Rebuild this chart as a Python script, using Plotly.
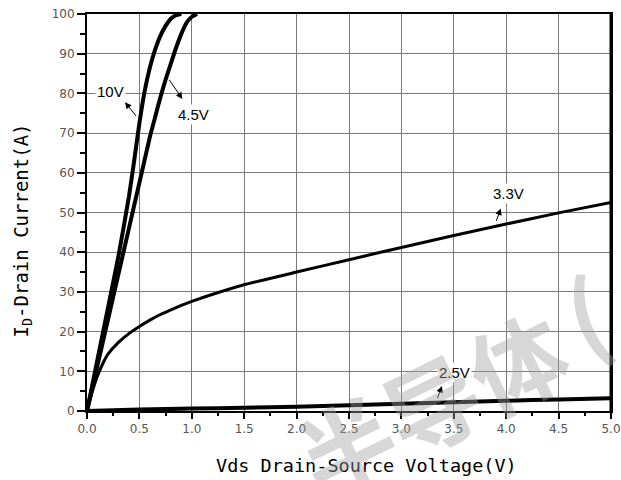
import plotly.graph_objects as go

# ---- data ----
vds_10v = [0, 0.1, 0.2, 0.3, 0.4, 0.45, 0.5, 0.55, 0.6, 0.65, 0.7, 0.75, 0.8, 0.85, 0.9]
id_10v = [0, 13, 26, 39, 54, 63, 72.5, 80.5, 86.5, 91, 94.5, 97, 98.8, 99.7, 100]

vds_45v = [0, 0.1, 0.2, 0.3, 0.4, 0.5, 0.6, 0.65, 0.7, 0.75, 0.8, 0.85, 0.9, 0.95, 1.0, 1.05]
id_45v = [0, 11.5, 23, 34.5, 46, 57.5, 69, 74, 79, 83.5, 87.5, 91.5, 95, 97.8, 99.3, 100]

vds_33v = [0, 0.05, 0.1, 0.15, 0.2, 0.3, 0.4, 0.5, 0.6, 0.7, 0.8, 0.9, 1.0, 1.2, 1.5,
           2.0, 2.5, 3.0, 3.5, 4.0, 4.5, 5.0]
id_33v = [0, 4.8, 8.8, 11.9, 14.3, 17.3, 19.5, 21.3, 22.9, 24.3, 25.5, 26.6, 27.6, 29.4, 31.8,
          35, 38.1, 41.2, 44.2, 47.1, 49.9, 52.5]

vds_25v = [0, 0.5, 1.0, 1.5, 2.0, 2.5, 3.0, 3.5, 4.0, 4.5, 5.0]
id_25v = [0, 0.35, 0.6, 0.85, 1.1, 1.45, 1.8, 2.2, 2.6, 2.9, 3.2]

x_ticks = [0, 0.5, 1.0, 1.5, 2.0, 2.5, 3.0, 3.5, 4.0, 4.5, 5.0]
y_ticks = [0, 10, 20, 30, 40, 50, 60, 70, 80, 90, 100]

# label text position and arrow (head, tail) in data units
labels = ["10V", "4.5V", "3.3V", "2.5V"]
label_pos = [(0.22, 80.4), (1.02, 74.7), (4.02, 54.8), (3.51, 9.7)]
arrow_head = [(0.363, 77.8), (0.91, 78.6), (3.948, 51.0), (3.387, 6.3)]
arrow_tail = [(0.48, 73.9), (0.775, 83.8), (3.90, 47.5), (3.34, 2.9)]

fig = go.Figure()
series = [(vds_10v, id_10v, 4), (vds_45v, id_45v, 4), (vds_33v, id_33v, 3), (vds_25v, id_25v, 4)]
for xs, ys, w in series:
    fig.add_trace(go.Scatter(x=xs, y=ys, mode="lines",
                             line=dict(color="black", width=w, shape="spline", smoothing=0.5),
                             showlegend=False, hoverinfo="skip"))

ann = []
for t, (lx, ly) in zip(labels, label_pos):
    ann.append(dict(x=lx, y=ly, xref="x", yref="y", text=t, showarrow=False,
                    font=dict(family="Liberation Sans, Arial", size=15, color="black"),
                    bgcolor="white", borderpad=1))
for (hx, hy), (tx, ty) in zip(arrow_head, arrow_tail):
    ann.append(dict(x=hx, y=hy, ax=tx, ay=ty, xref="x", yref="y", axref="x", ayref="y",
                    text="", showarrow=True, arrowhead=2, arrowsize=1.3, arrowwidth=1,
                    arrowcolor="black", standoff=0, startstandoff=0))

# axis titles
ann.append(dict(x=0.534, y=-0.137, xref="paper", yref="paper", text="Vds Drain-Source Voltage(V)",
                showarrow=False, xanchor="center", yanchor="middle",
                font=dict(family="DejaVu Sans Mono", size=18.5, color="black")))
ann.append(dict(x=-0.124, y=0.455, xref="paper", yref="paper", text="I<sub>D</sub>-Drain Current(A)",
                showarrow=False, xanchor="center", yanchor="middle", textangle=-90,
                font=dict(family="DejaVu Sans Mono", size=19, color="black")))

# watermark
wm_font = dict(family="Noto Sans CJK SC", size=95, color="rgba(160,160,160,0.42)", weight="bold")
ann.append(dict(x=0.656, y=0.025, xref="paper", yref="paper", text="半导体",
                showarrow=False, xanchor="center", yanchor="middle", textangle=-26, font=wm_font))
ann.append(dict(x=0.95, y=0.25, xref="paper", yref="paper", text="(",
                showarrow=False, xanchor="center", yanchor="middle", textangle=-20, font=wm_font))

fig.update_layout(
    width=621, height=480,
    margin=dict(l=87, r=10, t=14, b=69, autoexpand=False),
    paper_bgcolor="white", plot_bgcolor="white",
    annotations=ann,
    shapes=[dict(type="line", xref="paper", yref="paper", x0=1, x1=1, y0=0, y1=1,
                 line=dict(color="black", width=3))],
)
fig.update_xaxes(range=[0, 5], tickvals=x_ticks, tickformat=".1f", automargin=False,
                 showgrid=True, gridcolor="#7a7a7a", gridwidth=1,
                 showline=True, linecolor="black", linewidth=2, mirror=True,
                 ticks="outside", ticklen=6, tickwidth=1.5, tickcolor="black",
                 minor=dict(dtick=0.25, ticks="outside", ticklen=3, tickcolor="black", showgrid=False),
                 tickfont=dict(family="DejaVu Sans", size=12, color="#555555"), zeroline=False)
fig.update_yaxes(range=[0, 100], tickvals=y_ticks, automargin=False,
                 showgrid=True, gridcolor="#7a7a7a", gridwidth=1,
                 showline=True, linecolor="black", linewidth=2, mirror=True,
                 ticks="outside", ticklen=8, tickwidth=1.5, tickcolor="black",
                 minor=dict(dtick=5, ticks="outside", ticklen=5, tickcolor="black", showgrid=False),
                 tickfont=dict(family="DejaVu Sans", size=12, color="#555555"), zeroline=False)

fig.write_html("out.html", config={"displayModeBar": False},
               post_script="document.body.style.margin='0';document.body.style.overflow='hidden';")
